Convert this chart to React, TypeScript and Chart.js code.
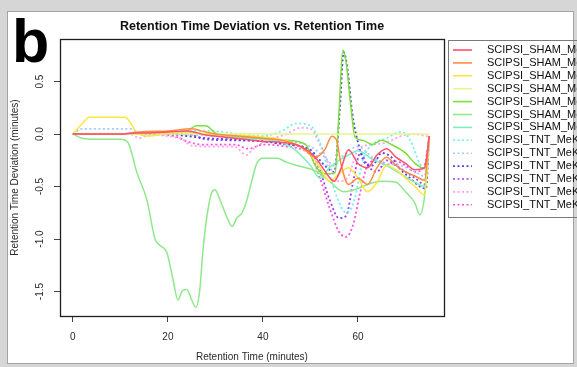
import { useEffect, useRef } from "react";
import { Chart, registerables } from "chart.js";

Chart.register(...registerables);

// Retention time (minutes) vs. deviation (minutes), one [t, dev] list per run
const shamRun1: [number, number][] = [[0,0],[5,0],[10,0],[13,0.01],[16,0.01],[20,0.02],[24,0.03],[28,-0.01],[32,-0.03],[36,-0.05],[40,-0.07],[44,-0.08],[48,-0.12],[51,-0.22],[53,-0.35],[55,-0.45],[56.5,-0.32],[58,-0.15],[60,-0.28],[62,-0.32],[64,-0.2],[66,-0.14],[68,-0.22],[70,-0.28],[72,-0.34],[74,-0.32],[75,-0.02]];
const shamRun2: [number, number][] = [[0,0],[10,0],[14,0.02],[20,0.03],[25,0.05],[27,0.03],[30,0],[35,-0.02],[40,-0.04],[44,-0.06],[48,-0.12],[51,-0.22],[53,-0.15],[54.5,-0.02],[55.5,-0.06],[56.5,-0.3],[58,-0.48],[60,-0.42],[62,-0.48],[64,-0.32],[66,-0.22],[68,-0.3],[70,-0.36],[72,-0.4],[74,-0.44],[75,-0.02]];
const shamRun3: [number, number][] = [[0,0],[2,0.1],[3.5,0.16],[11,0.16],[12.5,0.08],[13.5,0.01],[16,-0.02],[20,0.01],[24,0.02],[28,0],[32,-0.01],[40,-0.03],[46,-0.08],[50,-0.2],[52,-0.32],[54,-0.45],[56,-0.38],[58,-0.32],[60,-0.42],[62,-0.55],[64,-0.46],[66,-0.3],[68,-0.34],[70,-0.42],[72,-0.5],[74,-0.58],[75,-0.02]];
const shamRun4: [number, number][] = [[0,0],[10,0],[20,0],[30,0],[40,0],[50,0],[60,0],[70,0],[75,0]];
const shamRun5: [number, number][] = [[0,0],[10,0],[15,0.01],[20,0.02],[24,0.03],[26,0.08],[28,0.08],[30,0.01],[34,-0.02],[40,-0.04],[45,-0.06],[49,-0.1],[51,-0.3],[53,-0.38],[55.2,-0.37],[56,0.2],[56.8,0.8],[57.6,0.65],[58.4,0.3],[59.4,-0.03],[61,-0.06],[63,-0.1],[65,-0.06],[67,-0.1],[70,-0.18],[72,-0.28],[74,-0.33],[75,-0.03]];
const shamRun6: [number, number][] = [[0,0],[2,-0.04],[5,-0.05],[10,-0.05],[11.6,-0.08],[13.5,-0.37],[15.6,-0.63],[17.3,-1.0],[18.3,-1.06],[19.8,-1.13],[21.1,-1.39],[22.1,-1.58],[23.1,-1.49],[24,-1.48],[25,-1.58],[25.9,-1.65],[26.7,-1.49],[27.4,-1.1],[28.2,-0.79],[29.2,-0.56],[29.9,-0.53],[31,-0.63],[32.4,-0.79],[33.5,-0.88],[34.5,-0.8],[35.6,-0.75],[36.6,-0.63],[37.7,-0.44],[38.7,-0.28],[40,-0.23],[43,-0.23],[45,-0.27],[48,-0.31],[51,-0.35],[54,-0.45],[57,-0.55],[60,-0.52],[62,-0.48],[65,-0.45],[68,-0.46],[70,-0.55],[72,-0.66],[73,-0.77],[74,-0.6],[75,-0.05]];
const shamRun7: [number, number][] = [[0,0],[10,0],[16,0.01],[20,0.02],[25,0.01],[30,-0.02],[36,-0.04],[40,-0.05],[44,-0.08],[47,-0.16],[50,-0.3],[52,-0.42],[54,-0.32],[56,-0.25],[58,-0.2],[60,-0.16],[63,-0.24],[66,-0.3],[69,-0.38],[72,-0.46],[74,-0.5],[75,-0.03]];
const tntRun1: [number, number][] = [[0,0],[12,0],[16,0.01],[20,0.02],[28,0.03],[35,0],[40,-0.02],[44,0.03],[47,0.1],[50,0.08],[52,-0.08],[54,-0.38],[56,-0.65],[57.6,-0.75],[59.3,-0.62],[61,-0.25],[63,-0.1],[66,-0.04],[69,0.02],[71,-0.06],[73,-0.28],[74.5,-0.35],[75,-0.02]];
const tntRun2: [number, number][] = [[0,0],[2,0.05],[12,0.05],[14,0.01],[20,0],[30,-0.02],[40,-0.05],[46,-0.07],[50,-0.12],[53,-0.22],[55,-0.3],[57,-0.2],[60,-0.12],[63,-0.22],[66,-0.28],[69,-0.3],[72,-0.36],[74,-0.4],[75,-0.02]];
const tntRun3: [number, number][] = [[0,0],[15,0],[20,0],[24,-0.02],[28,-0.04],[33,-0.05],[40,-0.07],[45,-0.1],[50,-0.15],[53,-0.3],[55,-0.36],[56.2,0.25],[57,0.78],[57.8,0.62],[58.8,0.2],[60,-0.08],[61.5,-0.28],[63,-0.3],[65,-0.18],[67,-0.22],[69,-0.34],[71,-0.42],[73,-0.5],[74.3,-0.52],[75,-0.02]];
const tntRun4: [number, number][] = [[0,0],[20,0],[24,0],[28,-0.05],[34,-0.06],[40,-0.07],[45,-0.1],[50,-0.16],[52,-0.35],[54,-0.62],[56,-0.8],[57.5,-0.78],[59,-0.45],[60.5,-0.18],[62,-0.3],[64,-0.36],[66,-0.25],[68,-0.3],[70,-0.36],[72,-0.42],[74,-0.48],[75,-0.02]];
const tntRun5: [number, number][] = [[0,0],[12,0],[14,-0.04],[16,-0.01],[20,-0.02],[23,-0.05],[25,-0.11],[30,-0.12],[34,-0.12],[36.5,-0.2],[38,-0.14],[41,-0.06],[45,0],[48,0.06],[50,0.05],[52,-0.1],[54,-0.3],[56,-0.45],[58,-0.4],[60,-0.15],[63,-0.1],[66,-0.08],[69,-0.02],[72,0],[74.5,-0.02],[75,0]];
const tntRun6: [number, number][] = [[0,0],[15,0],[20,-0.01],[22,-0.03],[24,-0.07],[27,-0.1],[31,-0.1],[34,-0.1],[37,-0.14],[40,-0.1],[45,-0.12],[50,-0.2],[52,-0.42],[54,-0.7],[56,-0.93],[57.5,-0.98],[59,-0.86],[60.5,-0.55],[62,-0.3],[64,-0.25],[66,-0.3],[68,-0.26],[70,-0.3],[72,-0.36],[74,-0.3],[75,-0.02]];

const runPoints = [shamRun1, shamRun2, shamRun3, shamRun4, shamRun5, shamRun6, shamRun7, tntRun1, tntRun2, tntRun3, tntRun4, tntRun5, tntRun6];

const runLabels = [
  "SCIPSI_SHAM_MeK_1", "SCIPSI_SHAM_MeK_2", "SCIPSI_SHAM_MeK_3", "SCIPSI_SHAM_MeK_4",
  "SCIPSI_SHAM_MeK_5", "SCIPSI_SHAM_MeK_6", "SCIPSI_SHAM_MeK_7",
  "SCIPSI_TNT_MeK_1", "SCIPSI_TNT_MeK_2", "SCIPSI_TNT_MeK_3", "SCIPSI_TNT_MeK_4",
  "SCIPSI_TNT_MeK_5", "SCIPSI_TNT_MeK_6",
];

const runColors = [
  "#ff5070", "#ff8c40", "#ffe640", "#e6f58c", "#7de03a", "#8fe88a", "#7ef0c0",
  "#70f0f0", "#a8c8ff", "#5a40e8", "#a040f0", "#ffa0f0", "#ff50e0",
];

const runDotted = [false, false, false, false, false, false, false, true, true, true, true, true, true];

const xTickValues = [0, 20, 40, 60];
const yTickValues = [-1.5, -1.0, -0.5, 0.0, 0.5];

const chartTitle = "Retention Time Deviation vs. Retention Time";
const xTitle = "Retention Time (minutes)";
const yTitle = "Retention Time Deviation (minutes)";
const panelLetter = "b";

const FONT = '"Liberation Sans", Arial, sans-serif';

const decorPlugin = {
  id: "decor",
  beforeDraw(chart: any) {
    const { ctx, width, height } = chart;
    ctx.save();
    ctx.fillStyle = "#d6d6d6";
    ctx.fillRect(0, 0, width, height);
    ctx.fillStyle = "#ffffff";
    ctx.fillRect(8, 12, 565, 351);
    ctx.strokeStyle = "#a4a4a4";
    ctx.lineWidth = 1;
    ctx.strokeRect(7.5, 11.5, 566, 352);
    ctx.restore();
  },
  afterDraw(chart: any) {
    const { ctx, chartArea: a, scales } = chart;
    const ys = scales.y;
    ctx.save();

    // plot box
    ctx.strokeStyle = "#1e1e1e";
    ctx.lineWidth = 1.3;
    ctx.strokeRect(a.left + 0.5, a.top + 0.5, a.right - a.left, a.bottom - a.top);

    // y tick labels, rotated
    ctx.fillStyle = "#2a2a2a";
    ctx.font = `10px ${FONT}`;
    ctx.textAlign = "center";
    ctx.textBaseline = "middle";
    for (const v of yTickValues) {
      const py = ys.getPixelForValue(v);
      ctx.save();
      ctx.translate(40, py);
      ctx.rotate(-Math.PI / 2);
      ctx.fillText(v.toFixed(1), 0, 0);
      ctx.restore();
    }

    // axis titles
    ctx.save();
    ctx.translate(15, (a.top + a.bottom) / 2);
    ctx.rotate(-Math.PI / 2);
    ctx.fillText(yTitle, 0, 0);
    ctx.restore();
    ctx.fillText(xTitle, (a.left + a.right) / 2, 357);

    // main title
    ctx.font = `bold 12.5px ${FONT}`;
    ctx.fillStyle = "#111";
    ctx.fillText(chartTitle, (a.left + a.right) / 2, 27);

    // legend
    ctx.strokeStyle = "#7a7a7a";
    ctx.lineWidth = 1;
    ctx.strokeRect(448.5, 40.5, 200, 177);
    ctx.font = `11px ${FONT}`;
    ctx.textAlign = "left";
    runLabels.forEach((label, i) => {
      const ly = 50 + i * 12.9;
      ctx.strokeStyle = runColors[i];
      ctx.lineWidth = 1.6;
      ctx.setLineDash(runDotted[i] ? [2, 2.5] : []);
      ctx.beginPath();
      ctx.moveTo(453, ly);
      ctx.lineTo(472, ly);
      ctx.stroke();
      ctx.setLineDash([]);
      ctx.fillStyle = "#111";
      ctx.fillText(label, 487, ly);
    });

    // panel letter
    ctx.font = `bold 61px ${FONT}`;
    ctx.fillStyle = "#000";
    ctx.textBaseline = "alphabetic";
    ctx.fillText(panelLetter, 12, 62);

    ctx.restore();
  },
};

export default function App() {
  const canvasRef = useRef<HTMLCanvasElement | null>(null);

  useEffect(() => {
    const canvas = canvasRef.current;
    if (!canvas) return;
    const chart = new Chart(canvas, {
      type: "line",
      data: {
        datasets: runPoints.map((pts, i) => ({
          label: runLabels[i],
          data: pts.map(([x, y]) => ({ x, y })),
          borderColor: runColors[i],
          borderWidth: runDotted[i] ? 1.8 : 1.5,
          borderDash: runDotted[i] ? [2, 2.5] : [],
          pointRadius: 0,
          fill: false,
          cubicInterpolationMode: "monotone" as const,
        })),
      },
      options: {
        animation: false,
        responsive: false,
        devicePixelRatio: 1,
        layout: { padding: { left: 0, top: 39, right: 133, bottom: 0 } },
        plugins: {
          legend: { display: false },
          title: { display: false },
          tooltip: { enabled: false },
        },
        scales: {
          x: {
            type: "linear",
            min: -2.7,
            max: 78.1,
            afterBuildTicks: (scale: any) => {
              scale.ticks = xTickValues.map((value) => ({ value }));
            },
            afterFit: (scale: any) => {
              scale.height = 51;
            },
            border: { display: false },
            grid: { display: true, drawOnChartArea: false, drawTicks: true, tickLength: 6, color: "#444" },
            ticks: { color: "#2a2a2a", font: { size: 10, family: FONT }, padding: 9, maxRotation: 0 },
          },
          y: {
            type: "linear",
            min: -1.733,
            max: 0.905,
            afterBuildTicks: (scale: any) => {
              scale.ticks = yTickValues.map((value) => ({ value }));
            },
            afterFit: (scale: any) => {
              scale.width = 60;
            },
            border: { display: false },
            grid: { display: true, drawOnChartArea: false, drawTicks: true, tickLength: 6, color: "#444" },
            ticks: { display: false },
          },
        },
      },
      plugins: [decorPlugin],
    });
    return () => chart.destroy();
  }, []);

  return (
    <div style={{ position: "fixed", left: 0, top: 0, width: 577, height: 367 }}>
      <canvas ref={canvasRef} width={577} height={367} style={{ width: 577, height: 367, display: "block" }} />
    </div>
  );
}
